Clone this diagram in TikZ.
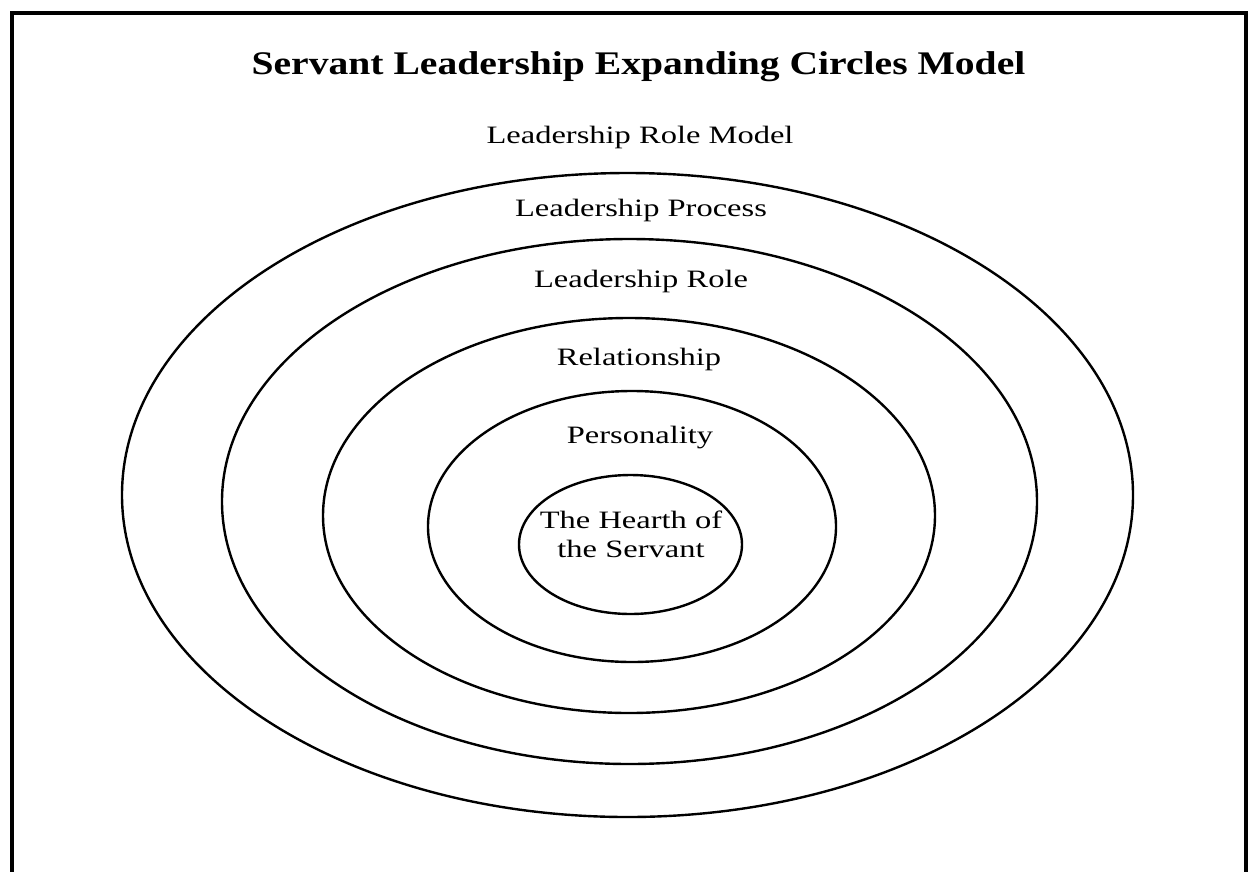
\documentclass[tikz,border=0pt]{standalone}
\usepackage{fontspec}
\setmainfont{Liberation Serif}
\begin{document}
\begin{tikzpicture}[x=1pt,y=-1pt,
  ring/.style={draw=black,line width=2.4pt},
  lbl/.style={font=\fontsize{25}{29}\selectfont,anchor=base,inner sep=0pt,xscale=1.3},
  ttl/.style={font=\fontsize{33}{38}\selectfont\bfseries,anchor=base,inner sep=0pt,xscale=1.2}]
\useasboundingbox (0,0) rectangle (1250,871);
\clip (0,0) rectangle (1250,871);
\fill[white] (0,0) rectangle (1250,871);
\draw[line width=4pt] (12,880) -- (12,13) -- (1246,13) -- (1246,880);
% rings
\draw[ring] (627.5,495) ellipse [x radius=505.5, y radius=322];
\draw[ring] (629.5,501.5) ellipse [x radius=407.5, y radius=262.5];
\draw[ring] (629,515.5) ellipse [x radius=306, y radius=197.5];
\draw[ring] (632,526.5) ellipse [x radius=204, y radius=135.5];
\draw[ring] (630.5,544.5) ellipse [x radius=111.5, y radius=69.5];
% texts
\node[ttl] (title) at (638.5,74.5) {Servant Leadership Expanding Circles Model};
\node[lbl] (rolemodel) at (640,143.5) {Leadership Role Model};
\node[lbl] (process) at (641,216) {Leadership Process};
\node[lbl] (role) at (641,287) {Leadership Role};
\node[lbl] (relation) at (639,365) {Relationship};
\node[lbl] (person) at (640,443) {Personality};
\node[lbl] (hearthA) at (631,528) {The Hearth of};
\node[lbl] (hearthB) at (631,557) {the Servant};
\end{tikzpicture}
\end{document}
